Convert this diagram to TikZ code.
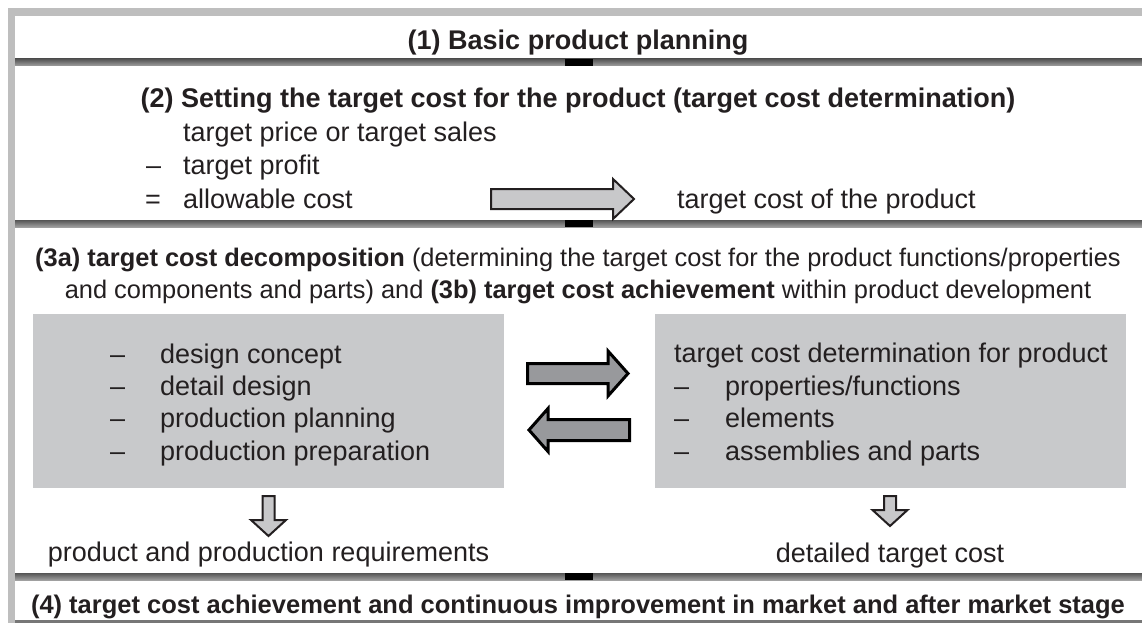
\documentclass[tikz,border=0pt]{standalone}
\usepackage{fontspec}
\setmainfont{Liberation Sans}
\definecolor{framegray}{RGB}{190,190,190}
\definecolor{sepdark}{RGB}{85,85,85}
\definecolor{seplight}{RGB}{160,160,160}
\definecolor{boxgray}{RGB}{200,201,203}
\definecolor{arrdark}{RGB}{152,153,156}
\definecolor{arrlight}{RGB}{200,200,202}
\definecolor{txt}{RGB}{35,31,32}
\begin{document}
\begin{tikzpicture}[x=1pt,y=-1pt]
\tikzset{
  lbl/.style={inner sep=0pt, outer sep=0pt, text=txt, font=\fontsize{27}{32}\selectfont},
  ttl/.style={inner sep=0pt, outer sep=0pt, text=txt, font=\fontsize{27}{32}\selectfont\bfseries},
  sublbl/.style={inner sep=0pt, outer sep=0pt, text=txt, font=\fontsize{25.4}{32}\selectfont},
  lasttl/.style={inner sep=0pt, outer sep=0pt, text=txt, font=\fontsize{25.5}{32}\selectfont\bfseries},
  graybox/.style={fill=boxgray, draw=none, inner sep=0pt, outer sep=0pt, anchor=north west},
  bigarrow/.style={draw=black, line width=3pt, fill=arrdark, line join=miter},
  smallarrow/.style={draw=txt, line width=2pt, fill=arrlight, line join=miter},
  sepbar/.style={top color=sepdark, bottom color=seplight, draw=none},
}
\useasboundingbox (0,0) rectangle (1142,623);
\fill[white] (0,0) rectangle (1142,623);
% frame
\fill[framegray] (8,8) rectangle (1142,16);
\fill[framegray] (8,8) rectangle (15,623);
% separators
\foreach \yy in {59,220,573} {
  \shade[sepbar] (15,\yy) rectangle (1142,\yy+7);
  \fill[black] (565,\yy) rectangle (593,\yy+7);
}
\fill[sepdark!80] (15,620) rectangle (1142,622.5);

% band 1
\node[ttl, anchor=base] (t1) at (578,50) {(1) Basic product planning};
% band 2
\node[ttl, anchor=base] (t2) at (578,107) {(2) Setting the target cost for the product (target cost determination)};
\node[lbl, anchor=base west] (tp) at (183,141) {target price or target sales};
\node[lbl, anchor=base west] (m1) at (146,174) {--};
\node[lbl, anchor=base west] (pr) at (183,174) {target profit};
\node[lbl, anchor=base west] (eq) at (145,208) {=};
\node[lbl, anchor=base west] (ac) at (183,208) {allowable cost};
\node[lbl, anchor=base west] (tc) at (677,208) {target cost of the product};
\path[smallarrow] (491,189) -- (613,189) -- (613,179) -- (634,199) -- (613,219) -- (613,209) -- (491,209) -- cycle;

% band 3
\node[sublbl, anchor=base] (l3a) at (578,266) {\textbf{(3a) target cost decomposition} (determining the target cost for the product functions/properties};
\node[sublbl, anchor=base] (l3b) at (578,298) {and components and parts) and \textbf{(3b) target cost achievement} within product development};

\node[graybox, minimum width=471pt, minimum height=174pt] (lbox) at (33,314) {};
\node[graybox, minimum width=471pt, minimum height=174pt] (rbox) at (655,314) {};

\foreach \yy/\tt in {363/{design concept}, 395/{detail design}, 427/{production planning}, 460/{production preparation}} {
  \node[lbl, anchor=base west] at (110,\yy) {--};
  \node[lbl, anchor=base west] at (160,\yy) {\tt};
}
\node[lbl, anchor=base west] (rh) at (674,362) {target cost determination for product};
\foreach \yy/\tt in {395/{properties/functions}, 427/{elements}, 460/{assemblies and parts}} {
  \node[lbl, anchor=base west] at (674,\yy) {--};
  \node[lbl, anchor=base west] at (725,\yy) {\tt};
}

% exchange arrows
\path[bigarrow] (527.5,363.5) -- (608,363.5) -- (608,351) -- (628,373.5) -- (608,396) -- (608,383.5) -- (527.5,383.5) -- cycle;
\path[bigarrow] (629.5,419.5) -- (548,419.5) -- (548,408.5) -- (529,430) -- (548,451.5) -- (548,440.5) -- (629.5,440.5) -- cycle;

% down arrows
\path[smallarrow] (262.5,496) -- (274.5,496) -- (274.5,520) -- (286,520) -- (268.5,536) -- (251,520) -- (262.5,520) -- cycle;
\path[smallarrow] (884,496) -- (896,496) -- (896,510) -- (907.5,510) -- (890,526) -- (872.5,510) -- (884,510) -- cycle;

\node[lbl, anchor=base] (ppr) at (268.5,561) {product and production requirements};
\node[lbl, anchor=base] (dtc) at (890,562) {detailed target cost};

% band 4
\node[lasttl, anchor=base] (t4) at (578,613) {(4) target cost achievement and continuous improvement in market and after market stage};
\end{tikzpicture}
\end{document}
